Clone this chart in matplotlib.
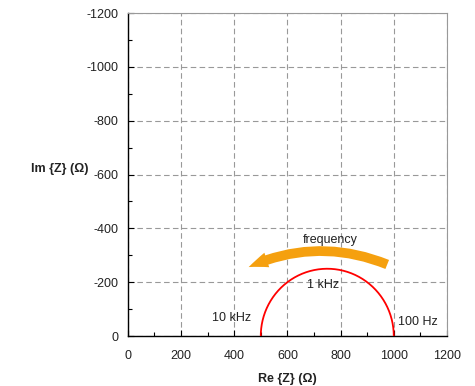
import numpy as np
import matplotlib.pyplot as plt
from matplotlib.patches import FancyArrowPatch

# semicircle: R_s = 500 ohm, R_p = 500 ohm
r_start = 500
r_end = 1000
x_ticks = [0, 200, 400, 600, 800, 1000, 1200]
y_ticks = [0, -200, -400, -600, -800, -1000, -1200]
freq_labels = ["10 kHz", "1 kHz", "100 Hz"]

plt.rcParams['font.family'] = ['Liberation Sans', 'DejaVu Sans']
plt.rcParams['axes.unicode_minus'] = False

centre = (r_start + r_end) / 2
radius = (r_end - r_start) / 2
theta = np.linspace(0, np.pi, 200)
re_z = centre + radius * np.cos(theta)
im_z = -radius * np.sin(theta)

fig = plt.figure(figsize=(4.75, 3.86), dpi=100)
ax = fig.add_axes([0.269, 0.1295, 0.672, 0.8365])

ax.plot(re_z, im_z, color='red', lw=1.3, zorder=3)

ax.set_xlim(0, 1200)
ax.set_ylim(0, -1200)
ax.set_xticks(x_ticks)
ax.set_yticks(y_ticks)
ax.set_xticks(np.arange(0, 1201, 100), minor=True)
ax.set_yticks(np.arange(0, -1201, -100), minor=True)
ax.tick_params(which='both', direction='in', labelsize=9, colors='black',
               labelcolor='#222222', width=0.8)
ax.tick_params(which='major', length=4, pad=7)
ax.tick_params(axis='x', which='major', pad=10)
ax.tick_params(which='minor', length=3)
ax.grid(True, which='major', ls=(0, (5, 3)), color='#999999', lw=0.8)

for s in ['top', 'right']:
    ax.spines[s].set_color('#999999')
for s in ['left', 'bottom']:
    ax.spines[s].set_color('black')
    ax.spines[s].set_linewidth(1.0)

ax.set_xlabel('Re {Z} (Ω)', fontsize=9, fontweight='bold', labelpad=8,
              color='#222222')
ax.set_ylabel('Im {Z} (Ω)', fontsize=9, fontweight='bold', rotation=0,
              color='#222222')
ax.yaxis.set_label_coords(-0.213, 0.5)

arrow = FancyArrowPatch((985, -262), (445, -252),
                        connectionstyle='arc3,rad=0.22',
                        arrowstyle='simple,head_width=11,head_length=14,tail_width=7',
                        color='#f5a00f', lw=0, zorder=4)
ax.add_patch(arrow)

ax.text(760, -358, 'frequency', fontsize=9, ha='center', va='center',
        color='#222222')
ax.text(390, -68, freq_labels[0], fontsize=9, ha='center', va='center',
        color='#222222')
ax.text(735, -190, freq_labels[1], fontsize=9, ha='center', va='center',
        color='#222222')
ax.text(1090, -52, freq_labels[2], fontsize=9, ha='center', va='center',
        color='#222222')

fig.savefig('out.png', dpi=100)
